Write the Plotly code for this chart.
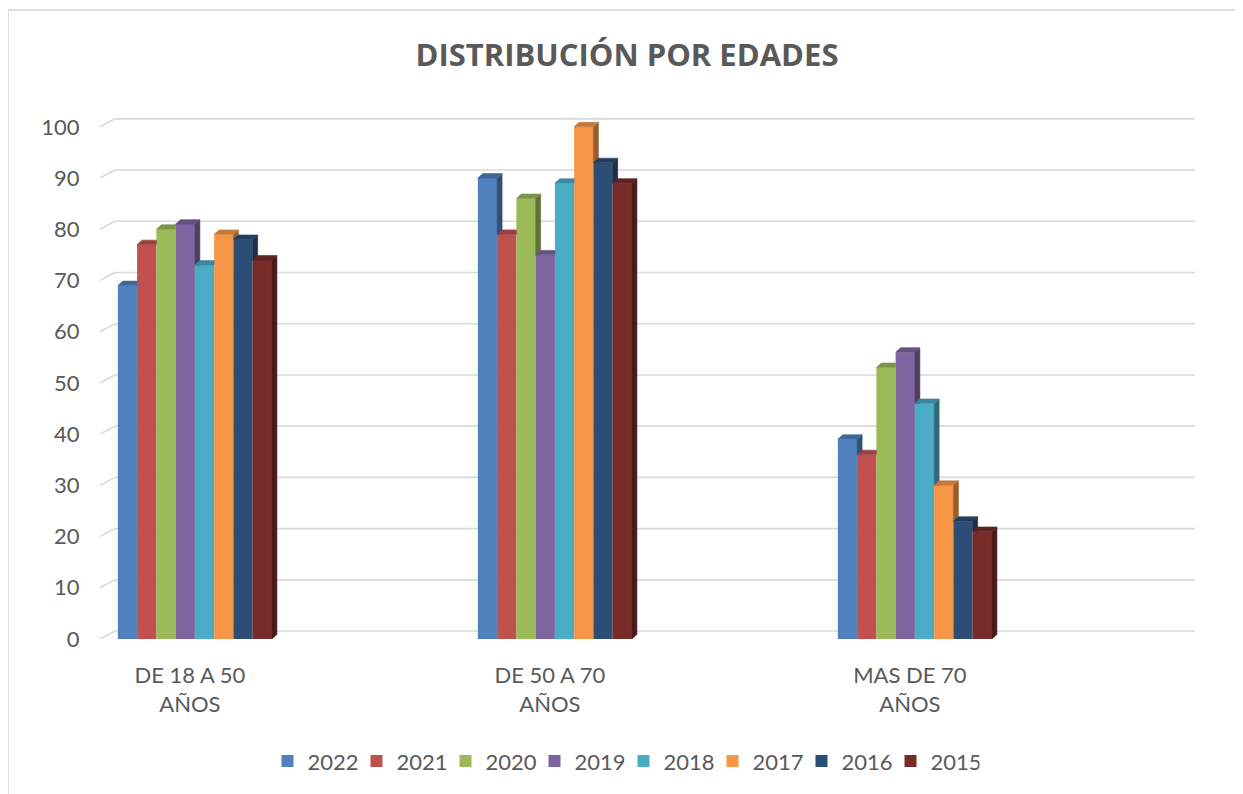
import plotly.graph_objects as go

# ---------------- data ----------------
categories = ["DE 18 A 50<br>AÑOS", "DE 50 A 70<br>AÑOS", "MAS DE 70<br>AÑOS"]
years = ["2022", "2021", "2020", "2019", "2018", "2017", "2016", "2015"]
v2022 = [69, 90, 39]
v2021 = [77, 79, 36]
v2020 = [80, 86, 53]
v2019 = [81, 75, 56]
v2018 = [73, 89, 46]
v2017 = [79, 100, 30]
v2016 = [78, 93, 23]
v2015 = [74, 89, 21]
series = [v2022, v2021, v2020, v2019, v2018, v2017, v2016, v2015]
colors = ["#4F81BD", "#C0504D", "#9BBB59", "#8064A2", "#4BACC6", "#F79646", "#2C4D75", "#772C2A"]
y_ticks = list(range(0, 101, 10))

# ---------------- geometry (pixels -> axis units) ----------------
OFF = 8                      # page body margin
W, H = 1243 - OFF, 794 - OFF
ML, MR, MT, MB = 115 - OFF, 48, 114 - OFF, 152
plot_w = W - ML - MR          # 1080
plot_h = H - MT - MB          # 528
x_left = -0.208
x_range = [x_left, x_left + 3.0]
px_x = plot_w / 3.0
y_max = 102.5
px_y = plot_h / y_max

bar_w = 0.0535
group_shift = 0.0139
dx = 5.0 / px_x
dy = 4.5 / px_y
back_dy = 8.0 / px_y
slant_dx = 15.0 / plot_w


def shade(hex_color, f):
    h = hex_color.lstrip("#")
    r, g, b = (int(h[i:i + 2], 16) for i in (0, 2, 4))
    return "rgb(%d,%d,%d)" % (r * f, g * f, b * f)


def clip(poly, a, b, c):
    """keep part of convex polygon where a*x + b*y + c >= 0"""
    out = []
    n = len(poly)
    for i in range(n):
        p = poly[i]
        q = poly[(i + 1) % n]
        fp = a * p[0] + b * p[1] + c
        fq = a * q[0] + b * q[1] + c
        if fp >= 0:
            out.append(p)
        if (fp >= 0) != (fq >= 0):
            t = fp / (fp - fq)
            out.append((p[0] + t * (q[0] - p[0]), p[1] + t * (q[1] - p[1])))
    return out


fig = go.Figure()

# front faces
for k, (yr, vals, col) in enumerate(zip(years, series, colors)):
    xs = [g + group_shift - 4 * bar_w + (k + 0.5) * bar_w for g in range(len(categories))]
    fig.add_trace(go.Bar(
        x=xs, y=vals, width=bar_w, name=yr,
        marker=dict(color=col, line=dict(width=0)),
        hoverinfo="skip",
    ))


def add_poly(poly, color):
    if len(poly) < 3:
        return
    xs = [p[0] for p in poly] + [poly[0][0]]
    ys = [p[1] for p in poly] + [poly[0][1]]
    fig.add_trace(go.Scatter(
        x=xs, y=ys, mode="lines", fill="toself", fillcolor=color,
        line=dict(color=color, width=0.6), showlegend=False, hoverinfo="skip",
    ))


# side and top faces (3D look)
for g in range(len(categories)):
    for k in range(len(years)):
        v = series[k][g]
        col = colors[k]
        x0 = g + group_shift - 4 * bar_w + k * bar_w
        x1 = x0 + bar_w
        hn = series[k + 1][g] if k + 1 < len(years) else None
        side = [(x1, 0), (x1 + dx, dy), (x1 + dx, v + dy), (x1, v)]
        if hn is not None:
            side = clip(side, 0, 1, -hn)
        add_poly(side, shade(col, 0.62))
        top = [(x0, v), (x1, v), (x1 + dx, v + dy), (x0 + dx, v + dy)]
        if hn is not None and hn > v:
            left = clip(top, -1, 0, x1)
            right = clip(clip(top, 1, 0, -x1), 0, 1, -hn)
            add_poly(left, shade(col, 0.8))
            add_poly(right, shade(col, 0.8))
        else:
            add_poly(top, shade(col, 0.8))

# gridlines on the back wall with slanted floor/side segments
shapes = []
for t in y_ticks:
    shapes.append(dict(type="line", xref="paper", yref="y", x0=0, x1=1,
                       y0=t + back_dy, y1=t + back_dy, layer="below",
                       line=dict(color="#D9D9D9", width=1.6)))
    shapes.append(dict(type="line", xref="paper", yref="y", x0=-slant_dx, x1=0,
                       y0=t, y1=t + back_dy, layer="below",
                       line=dict(color="#D9D9D9", width=1.6)))


# reference-pixel -> paper conversion
def pxx(p):
    return (p - OFF - ML) / plot_w


def pxy(p):
    return (H - MB - (p - OFF)) / plot_h


shapes.append(dict(type="rect", xref="paper", yref="paper",
                   x0=pxx(8), x1=pxx(1270), y0=pxy(9.5), y1=pxy(830),
                   line=dict(color="#D9D9D9", width=1.6), fillcolor="rgba(0,0,0,0)",
                   layer="below"))

font_family = "Lato, 'Open Sans', sans-serif"
fig.update_layout(
    width=W, height=H,
    margin=dict(l=ML, r=MR, t=MT, b=MB),
    paper_bgcolor="white", plot_bgcolor="white",
    barmode="overlay",
    shapes=shapes,
    title=dict(text="<b>DISTRIBUCIÓN POR EDADES</b>", x=(627 - OFF) / W, xanchor="center",
               y=1 - (55 - OFF) / H, yanchor="middle", yref="container",
               font=dict(family="'Open Sans', sans-serif", size=31, color="#595959")),
    xaxis=dict(range=x_range, tickvals=list(range(len(categories))), ticktext=categories,
               showgrid=False, zeroline=False, showline=False,
               ticks="outside", ticklen=17, tickcolor="rgba(0,0,0,0)",
               tickfont=dict(family=font_family, size=22, color="#595959")),
    yaxis=dict(range=[0, y_max], tickvals=y_ticks, showgrid=False, zeroline=False,
               showline=False, ticks="outside", ticklen=30, tickcolor="rgba(0,0,0,0)",
               tickfont=dict(family=font_family, size=22, color="#595959")),
    legend=dict(orientation="h", x=pxx(267.5), xanchor="left", y=pxy(765), yanchor="middle",
                font=dict(family=font_family, size=22, color="#595959"),
                traceorder="normal", entrywidth=44, entrywidthmode="pixels",
                itemwidth=30, bgcolor="rgba(0,0,0,0)"),
    showlegend=True,
)

fig.write_html("out.html")
